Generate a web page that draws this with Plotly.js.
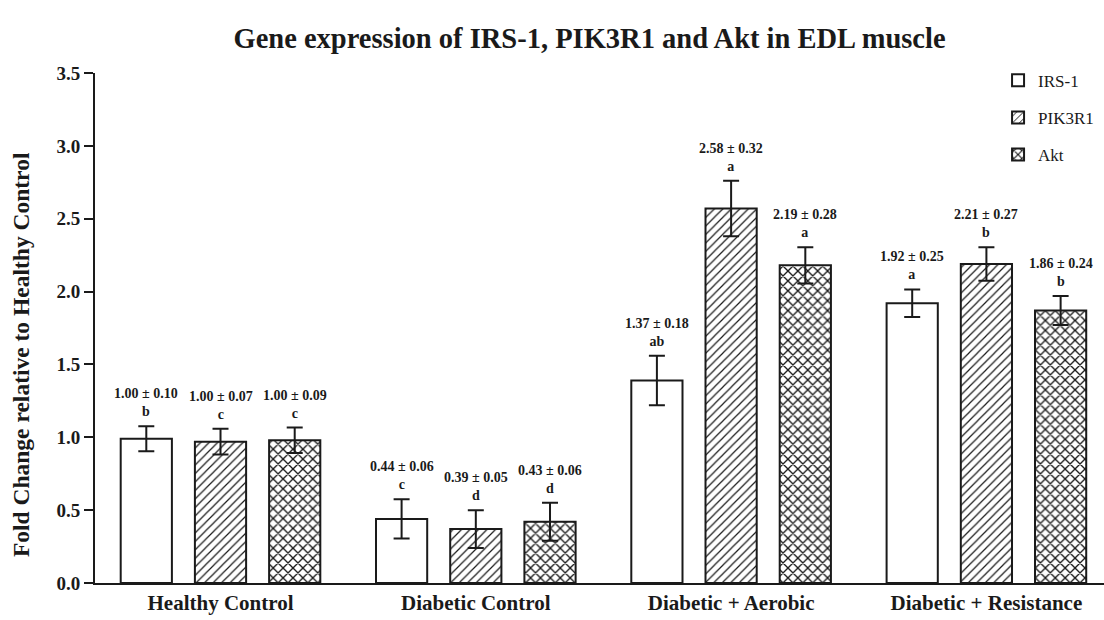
<!DOCTYPE html>
<html>
<head>
<meta charset="utf-8">
<script src="https://cdn.plot.ly/plotly-3.0.1.min.js"></script>
<style>html,body{margin:0;padding:0;background:#fff;}#chart{width:1104px;height:620px;}</style>
</head>
<body>
<div id="chart"></div>
<script>
const groups = ["Healthy Control", "Diabetic Control", "Diabetic + Aerobic", "Diabetic + Resistance"];
const seriesNames = ["IRS-1", "PIK3R1", "Akt"];

const irs1 = [0.99, 0.44, 1.39, 1.92];
const pik3r1 = [0.97, 0.37, 2.57, 2.19];
const akt = [0.98, 0.42, 2.18, 1.87];

const irs1Err = [0.085, 0.135, 0.17, 0.095];
const pik3r1Err = [0.088, 0.13, 0.19, 0.115];
const aktErr = [0.087, 0.13, 0.125, 0.10];

const irs1Labels = ["1.00 ± 0.10", "0.44 ± 0.06", "1.37 ± 0.18", "1.92 ± 0.25"];
const pik3r1Labels = ["1.00 ± 0.07", "0.39 ± 0.05", "2.58 ± 0.32", "2.21 ± 0.27"];
const aktLabels = ["1.00 ± 0.09", "0.43 ± 0.06", "2.19 ± 0.28", "1.86 ± 0.24"];

const irs1Letters = ["b", "c", "ab", "a"];
const pik3r1Letters = ["c", "d", "a", "b"];
const aktLetters = ["c", "d", "a", "b"];

const values = [irs1, pik3r1, akt];
const errs = [irs1Err, pik3r1Err, aktErr];
const labels = [irs1Labels, pik3r1Labels, aktLabels];
const letters = [irs1Letters, pik3r1Letters, aktLetters];
const patterns = ["", "/", "x"];
const patSize = [8, 6, 7];
const patSolidity = [0.2, 0.2, 0.35];

const FONT = "Liberation Serif";
const bargap = 0.128;
const slot = (1 - bargap) / 3;

const traces = seriesNames.map((name, i) => ({
  type: "bar",
  name: name,
  x: groups,
  y: values[i],
  legendgroup: name,
  marker: {
    color: "#ffffff",
    line: {color: "#1a1a1a", width: 2},
    pattern: {shape: patterns[i], fgcolor: "#1a1a1a", bgcolor: "#ffffff", size: patSize[i], solidity: patSolidity[i]}
  },
  error_y: {type: "data", array: errs[i], visible: true, color: "#1a1a1a", thickness: 2, width: 8},
  hoverinfo: "skip"
}));

const annotations = [];
seriesNames.forEach((name, i) => {
  groups.forEach((g, j) => {
    annotations.push({
      xref: "x", yref: "y",
      x: j + (i - 1) * slot,
      y: values[i][j] + errs[i][j],
      yanchor: "bottom", xanchor: "center",
      yshift: 5,
      showarrow: false,
      text: "<b>" + labels[i][j] + "</b><br><b>" + letters[i][j] + "</b>",
      font: {family: FONT, size: 14, color: "#1a1a1a"}
    });
  });
});
annotations.push({
  xref: "paper", yref: "paper",
  x: -0.0733, y: 0.447,
  xanchor: "center", yanchor: "middle",
  textangle: -90, showarrow: false,
  text: "<b>Fold Change relative to Healthy Control</b>",
  font: {family: FONT, size: 23.5, color: "#1a1a1a"}
});

const layout = {
  width: 1104, height: 620,
  margin: {l: 95, r: 0, t: 73, b: 37},
  paper_bgcolor: "#ffffff", plot_bgcolor: "#ffffff",
  font: {family: FONT, color: "#1a1a1a"},
  barmode: "group", bargap: bargap, bargroupgap: 0.31,
  title: {
    text: "<b>Gene expression of IRS-1, PIK3R1 and Akt in EDL muscle</b>",
    x: 0.534, xanchor: "center", xref: "container",
    y: 0.939, yanchor: "middle", yref: "container",
    font: {family: FONT, size: 28.5, color: "#1a1a1a"}
  },
  xaxis: {
    type: "category",
    range: [-0.4916, 3.4606],
    showline: true, linecolor: "#1a1a1a", linewidth: 2,
    ticks: "", showgrid: false, zeroline: false,
    tickfont: {family: FONT, size: 21, color: "#1a1a1a", weight: "bold"}
  },
  yaxis: {
    range: [0, 3.5],
    tickvals: [0, 0.5, 1, 1.5, 2, 2.5, 3, 3.5],
    ticktext: ["0.0", "0.5", "1.0", "1.5", "2.0", "2.5", "3.0", "3.5"],
    showline: true, linecolor: "#1a1a1a", linewidth: 2,
    ticks: "outside", ticklen: 9, tickwidth: 2, tickcolor: "#1a1a1a",
    showgrid: false, zeroline: false,
    tickfont: {family: FONT, size: 19, color: "#1a1a1a", weight: "bold"}
  },
  legend: {
    x: 0.895, y: 1.02, xanchor: "left", yanchor: "top",
    bgcolor: "rgba(0,0,0,0)",
    font: {family: FONT, size: 17, color: "#1a1a1a"},
    tracegroupgap: 12,
    traceorder: "grouped"
  },
  annotations: annotations,
  showlegend: true
};

Plotly.newPlot("chart", traces, layout, {displayModeBar: false, staticPlot: true});
</script>
</body>
</html>
